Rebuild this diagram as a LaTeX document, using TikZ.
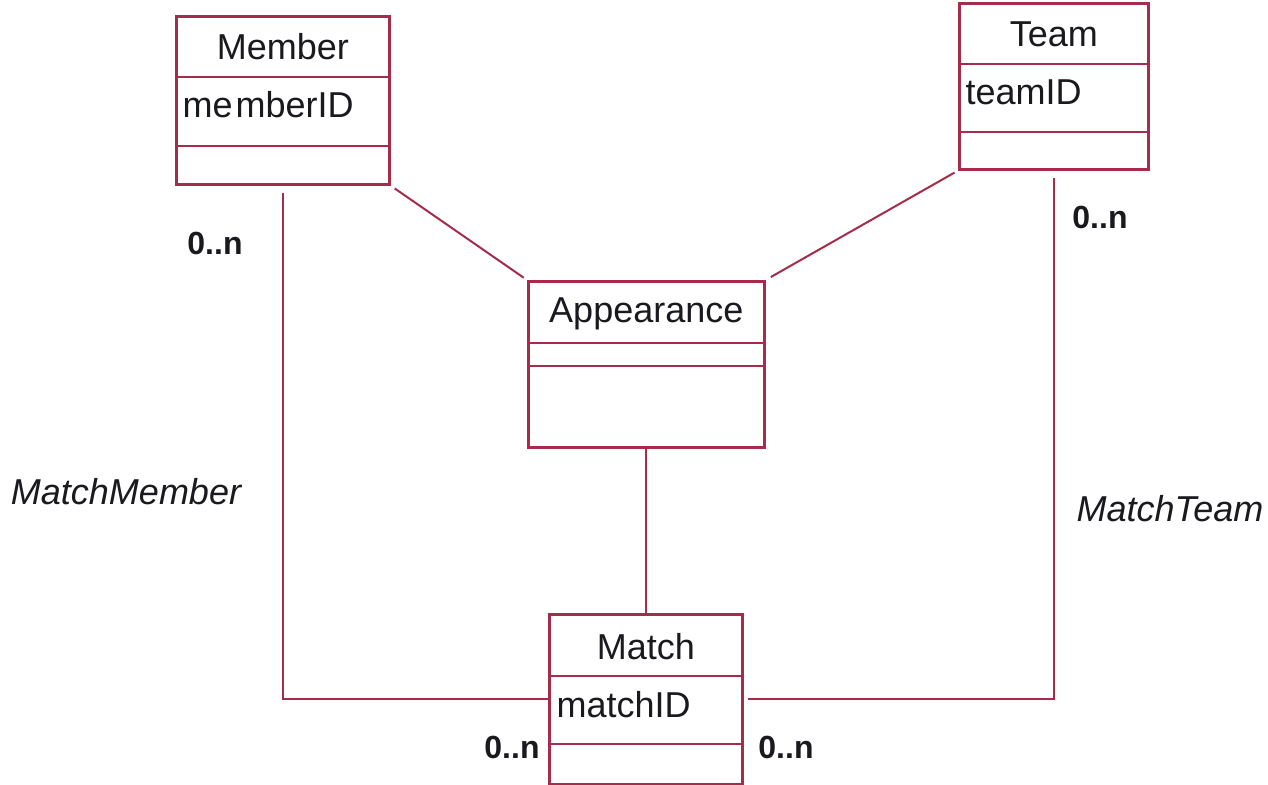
\documentclass[tikz,border=0pt]{standalone}
\usepackage{fontspec}
\setmainfont{Liberation Sans}
\definecolor{umlred}{RGB}{165,45,75}
\definecolor{umltext}{RGB}{25,25,30}
\begin{document}
\begin{tikzpicture}[x=1pt,y=-1pt,
  classbox/.style={draw=umlred, line width=2.6pt, anchor=north west, inner sep=0pt},
  divider/.style={draw=umlred, line width=2.6pt},
  assoc/.style={draw=umlred, line width=2pt},
  title/.style={font=\fontsize{36}{42}\selectfont, text=umltext},
  attr/.style={font=\fontsize{36}{42}\selectfont, text=umltext, anchor=west},
  mult/.style={font=\fontsize{32}{38}\selectfont\bfseries, text=umltext},
  rolename/.style={font=\fontsize{36}{42}\selectfont\itshape, text=umltext}]
\useasboundingbox (0,0) rectangle (1268,784);
\fill[white] (0,0) rectangle (1268,784);

% class boxes
\node[classbox, minimum width=213pt, minimum height=168pt] (member) at (175,15) {};
\node[classbox, minimum width=189pt, minimum height=166pt] (team) at (958,2) {};
\node[classbox, minimum width=236pt, minimum height=166pt] (appear) at (527,280) {};
\node[classbox, minimum width=193pt, minimum height=170pt] (match) at (548,613) {};

% compartment dividers
\draw[divider] (member.west |- 0,77) -- (member.east |- 0,77);
\draw[divider] (member.west |- 0,146) -- (member.east |- 0,146);
\draw[divider] (team.west |- 0,64) -- (team.east |- 0,64);
\draw[divider] (team.west |- 0,132) -- (team.east |- 0,132);
\draw[divider] (appear.west |- 0,343) -- (appear.east |- 0,343);
\draw[divider] (appear.west |- 0,366) -- (appear.east |- 0,366);
\draw[divider] (match.west |- 0,676) -- (match.east |- 0,676);
\draw[divider] (match.west |- 0,744) -- (match.east |- 0,744);

% class names and attributes
\node[title] (memberName) at (member.north |- 0,47) {Member};
\node[attr] (memberAttr) at (179,105) {me\hspace{3pt}mberID};
\node[title] (teamName) at (team.north |- 0,34) {Team};
\node[attr] (teamAttr) at (962,92) {teamID};
\node[title] (appearName) at (appear.north |- 0,314) {Appearance};
\node[title] (matchName) at (match.north |- 0,647) {Match};
\node[attr] (matchAttr) at (553,705) {matchID};

% associations
\draw[assoc, shorten <=5pt, shorten >=4pt] (member.south east) -- (appear.north west);
\draw[assoc, shorten <=4pt, shorten >=6pt] (team.south west) -- (appear.north east);
\draw[assoc] (appear.south) -- (appear.south |- match.north);
\draw[assoc, shorten <=7pt] (member.south) |- (match.west);
\draw[assoc, shorten <=7pt, shorten >=4pt] (team.south) |- (match.east);

% multiplicities and role names
\node[mult] (m1) at (215,243) {0..n};
\node[mult] (m2) at (1100,217) {0..n};
\node[mult] (m3) at (512,747) {0..n};
\node[mult] (m4) at (786,747) {0..n};
\node[rolename] (r1) at (126,492) {MatchMember};
\node[rolename, anchor=west] (r2) at (1073,509) {MatchTeam};
\end{tikzpicture}
\end{document}
